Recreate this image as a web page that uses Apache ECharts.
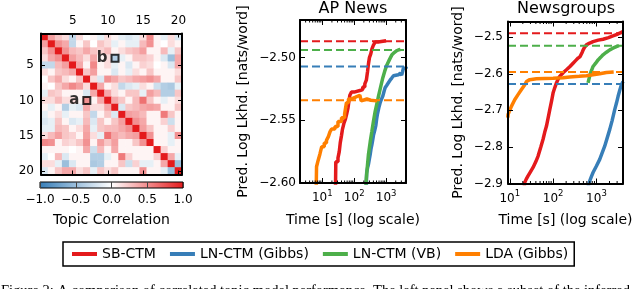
<!DOCTYPE html>
<html><head><meta charset="utf-8">
<script src="https://cdn.jsdelivr.net/npm/echarts@6/dist/echarts.min.js"></script>
<style>html,body{margin:0;padding:0;background:#fff}#c{width:640px;height:289px}</style>
</head><body><div id="c"></div>
<script>
// ---------- data ----------
const topics = [1,2,3,4,5,6,7,8,9,10,11,12,13,14,15,16,17,18,19,20];
// upper triangle of the topic correlation matrix (row i, columns i+1..20)
const corrUpper = [
  [0.42,0.25,0.15,-0.3,0.15,0,0.05,-0.12,0.15,0.05,-0.12,-0.18,-0.12,0.15,0.52,0.05,-0.12,0.15,-0.18],
  [0.48,0.38,-0.3,0.05,0.25,0,0.25,0.15,-0.12,0.05,-0.12,-0.12,0.3,0.48,0.05,0,0.15,0.05],
  [0.48,0.3,0.25,0.38,0.25,0.2,0.3,0.05,0.15,0.25,0.3,0.42,0.05,0.05,0.3,-0.12,0.25],
  [0.42,0.3,0.15,0.38,0.05,0.15,-0.38,-0.12,0.05,0.25,0.25,0.2,0.05,-0.18,-0.5,0.38],
  [0.38,0.05,0.52,0.05,0.15,-0.12,0.05,-0.18,0.05,0.2,0.15,0,0.05,-0.18,0.38],
  [0.25,0.42,0.05,0.05,-0.18,0.05,-0.12,0.15,0.05,0.25,0.05,0.05,0.05,0.15],
  [0.15,-0.18,0.48,0.38,0.25,0.3,0.38,0.42,0.48,0.38,0.05,0.05,0.25],
  [0.38,0.05,0.15,-0.3,-0.18,-0.12,0.15,0.05,-0.25,-0.38,-0.42,-0.12],
  [0.38,0.15,0.05,0.25,0.25,-0.12,0.42,0.3,-0.38,-0.38,0.25],
  [0.38,0.25,0.05,0.3,0.62,0.25,0.05,-0.12,0.05,0.15],
  [-0.18,0.25,0.3,0.38,0.42,0.38,0.05,0.05,0.25],
  [0.42,0.38,0.3,0.05,0.05,0.58,0.25,0.05],
  [0.48,0.38,0.05,0.05,0.2,-0.25,0.05],
  [0.42,0.25,0.05,0.05,0.2,0.05],
  [0.48,0.05,0.05,-0.12,0.48],
  [0.05,0.05,-0.12,0.05],
  [0.2,0.05,0.05],
  [0.38,-0.12],
  [-0.5]
];
const annotations = [{label:'a', col:7, row:10}, {label:'b', col:11, row:4}];

const seriesNames = ['SB-CTM','LN-CTM (Gibbs)','LN-CTM (VB)','LDA (Gibbs)'];
const seriesColors = ['#e41a1c','#377eb8','#4daf4a','#ff7f00'];

// AP News: [time (s), predictive log likelihood]
const apXRange = [2, 4200];
const apYRange = [-2.60, -2.47];
const apRed = [[25.5,-2.62],[26.5,-2.583],[31,-2.580],[34,-2.575],[36.5,-2.568],[40,-2.562],[43,-2.557],[48,-2.552],[53,-2.549],[58,-2.545],[64,-2.540],[68,-2.535],[73,-2.530],[82,-2.5275],[100,-2.526],[160,-2.5255],[185,-2.5235],[215,-2.521],[240,-2.518],[262,-2.511],[280,-2.505],[300,-2.500],[330,-2.497],[360,-2.493],[400,-2.490],[460,-2.4875],[560,-2.4865],[1000,-2.4865]];
const apBlue = [[232,-2.62],[245,-2.592],[262,-2.588],[280,-2.585],[298,-2.581],[316,-2.5775],[335,-2.573],[357,-2.5697],[378,-2.566],[401,-2.562],[440,-2.558],[477,-2.554],[505,-2.549],[535,-2.545],[590,-2.540],[650,-2.536],[720,-2.533],[789,-2.5306],[860,-2.527],[930,-2.524],[1050,-2.522],[1180,-2.520],[1330,-2.518],[1500,-2.5163],[1700,-2.5145],[1910,-2.5137],[2410,-2.5124],[2800,-2.5115],[3080,-2.514],[3300,-2.511],[3480,-2.5084],[4220,-2.5072]];
const apGreen = [[221,-2.61],[240,-2.596],[260,-2.586],[280,-2.577],[318,-2.567],[357,-2.559],[400,-2.551],[453,-2.543],[510,-2.537],[575,-2.531],[680,-2.523],[789,-2.516],[900,-2.511],[1050,-2.506],[1250,-2.502],[1500,-2.498],[1800,-2.496],[2150,-2.4945],[2500,-2.4937],[2800,-2.4935]];
const apOrange = [[6.3,-2.62],[6.6,-2.587],[7.4,-2.582],[8.4,-2.577],[9.6,-2.571],[11.5,-2.568],[13.5,-2.566],[15.5,-2.563],[17.5,-2.559],[19.5,-2.557],[25,-2.555],[31,-2.551],[40,-2.548],[50,-2.545],[57,-2.536],[66,-2.533],[80,-2.5315],[110,-2.530],[150,-2.5315],[165,-2.5345],[185,-2.533],[250,-2.534],[330,-2.5345],[520,-2.5345]];
const apFinal = [-2.487,-2.507,-2.494,-2.534];

// Newsgroups
const ngXRange = [9.1, 4100];
const ngYRange = [-2.9, -2.457];
const ngRed = [[21,-2.92],[22.2,-2.897],[24,-2.888],[26.4,-2.879],[30,-2.868],[34.5,-2.856],[40,-2.84],[45,-2.825],[52,-2.80],[58.6,-2.779],[64,-2.76],[70.3,-2.743],[77,-2.72],[83.8,-2.698],[92,-2.675],[100,-2.652],[110,-2.637],[119.5,-2.625],[130,-2.615],[142,-2.607],[170,-2.597],[203,-2.589],[245,-2.580],[289,-2.571],[330,-2.564],[377,-2.557],[420,-2.553],[451,-2.548],[470,-2.541],[491,-2.535],[530,-2.528],[587,-2.521],[700,-2.516],[835,-2.512],[1100,-2.508],[1420,-2.5054],[1900,-2.501],[2400,-2.4965],[3000,-2.492],[3770,-2.4864],[4110,-2.485]];
const ngBlue = [[640,-2.91],[700,-2.893],[760,-2.882],[835,-2.870],[1000,-2.852],[1190,-2.834],[1550,-2.798],[2030,-2.752],[2300,-2.728],[2640,-2.698],[2900,-2.680],[3160,-2.6616],[3450,-2.645],[3770,-2.630],[4110,-2.621]];
const ngGreen = [[640,-2.625],[680,-2.612],[727,-2.598],[780,-2.589],[835,-2.580],[960,-2.571],[1090,-2.562],[1250,-2.555],[1420,-2.548],[1700,-2.541],[2030,-2.5346],[2400,-2.530],[2880,-2.5256],[3320,-2.523]];
const ngOrange = [[9.0,-2.72],[9.15,-2.711],[10.9,-2.689],[13.0,-2.671],[15.5,-2.657],[18.6,-2.643],[22.2,-2.630],[24.3,-2.621],[28.9,-2.616],[41.3,-2.6135],[100,-2.6125],[170,-2.611],[242,-2.609],[400,-2.607],[587,-2.6053],[835,-2.6026],[1190,-2.600],[1700,-2.5963],[2500,-2.595]];
const ngFinal = [-2.489,-2.628,-2.523,-2.595];

const apMinorTicks = [3,4,5,6,7,8,9,20,30,40,50,60,70,80,90,200,300,400,500,600,700,800,900,2000,3000,4000];
const ngMinorTicks = [20,30,40,50,60,70,80,90,200,300,400,500,600,700,800,900,2000,3000,4000];
const cbarTickInterval = 0.5;

const caption = 'Figure 2: A comparison of correlated topic model performance. The left panel shows a subset of the inferred';

// ---------- build ----------
const FONT = 'DejaVu Sans';
const heatData = [];
for (let i = 0; i < 20; i++) for (let j = 0; j < 20; j++) {
  let v;
  if (i === j) v = 1; else if (j > i) v = corrUpper[i][j - i - 1]; else v = corrUpper[j][i - j - 1];
  heatData.push([j, i, v]);
}
const every5 = (idx) => (idx + 1) % 5 === 0;
function heatAxis(kind, pos, showLabel) {
  const a = { type:'category', gridIndex:0, data:topics, position:pos, z:10,
    axisLine:{show:true, onZero:false, lineStyle:{color:'#000', width:2}},
    axisTick:{show:true, inside:true, length:4, alignWithLabel:true, interval:every5, lineStyle:{color:'#000', width:1}},
    axisLabel:{show:showLabel, interval:every5, margin:7, fontSize:12, color:'#000', fontFamily:FONT},
    splitLine:{show:false} };
  if (kind === 'y') a.inverse = true;
  return a;
}
function logAxis(grid, pos, range, showLabel, name) {
  return { type:'log', logBase:10, gridIndex:grid, position:pos, min:range[0], max:range[1], z:10,
    axisLine:{show:true, onZero:false, lineStyle:{color:'#000', width:2}},
    axisTick:{show:true, inside:true, length:5, lineStyle:{color:'#000', width:1}},
    axisLabel:{show:showLabel, margin:6, color:'#000', fontFamily:FONT, fontSize:12,
      formatter: v => { const e = Math.log10(v); if (Math.abs(e - Math.round(e)) > 1e-6) return ''; return '{b|10}{s|' + Math.round(e) + '}'; },
      rich:{ b:{fontSize:12, fontFamily:FONT, color:'#000', lineHeight:18}, s:{fontSize:8.5, fontFamily:FONT, color:'#000', verticalAlign:'top', lineHeight:9} } },
    splitLine:{show:false}, minorTick:{show:false},
    name: name || '', nameLocation:'middle', nameGap:30, nameTextStyle:{fontSize:14, color:'#000', fontFamily:FONT} };
}
function valAxis(grid, pos, range, interval, dec, showLabel, name, nameGap, margin) {
  return { type:'value', gridIndex:grid, position:pos, min:range[0], max:range[1], interval, z:10,
    axisLine:{show:true, onZero:false, lineStyle:{color:'#000', width:2}},
    axisTick:{show:true, inside:true, length:5, lineStyle:{color:'#000', width:1}},
    axisLabel:{show:showLabel, margin, fontSize:12, color:'#000', fontFamily:FONT,
      formatter: v => { const k = v / interval; if (Math.abs(k - Math.round(k)) > 1e-6) return ''; return v.toFixed(dec).replace('-', '\u2212'); } },
    splitLine:{show:false},
    name: name || '', nameLocation:'middle', nameGap: nameGap || 0, nameRotate:90,
    nameTextStyle:{fontSize:14, color:'#000', fontFamily:FONT} };
}
function lineSeries(k, data, xi, yi, step) {
  return { type:'line', name:seriesNames[k], xAxisIndex:xi, yAxisIndex:yi, data, step: step ? 'end' : false,
    showSymbol:false, symbol:'none', clip:true, z:3, silent:true,
    lineStyle:{color:seriesColors[k], width:3.5}, itemStyle:{color:seriesColors[k]} };
}
function finalLine(k, v, xRange, xi, yi) {
  return { type:'line', name:seriesNames[k] + ' final', xAxisIndex:xi, yAxisIndex:yi,
    data:[[xRange[0], v], [xRange[1], v]], showSymbol:false, symbol:'none', clip:true, z:4, silent:true,
    lineStyle:{color:seriesColors[k], width:2, type:[8,4]}, itemStyle:{color:seriesColors[k]} };
}
function minorTicks(xi, yi, vals, yRef) {
  return { type:'custom', xAxisIndex:xi, yAxisIndex:yi, silent:true, z:11, clip:false,
    data: vals.map(v => [v, yRef]), encode:{x:0, y:1},
    renderItem: (params, api) => {
      const cs = params.coordSys;
      const x = api.coord([api.value(0), api.value(1)])[0];
      const top = cs.y, bot = cs.y + cs.height;
      return { type:'group', children:[
        {type:'line', shape:{x1:x, y1:bot, x2:x, y2:bot - 2.5}, style:{stroke:'#000', lineWidth:1}},
        {type:'line', shape:{x1:x, y1:top, x2:x, y2:top + 2.5}, style:{stroke:'#000', lineWidth:1}} ] };
    } };
}

const series = [
  {type:'heatmap', xAxisIndex:0, yAxisIndex:0, data:heatData, z:2, silent:true, itemStyle:{borderWidth:0}},
  {type:'scatter', xAxisIndex:0, yAxisIndex:0, z:5, silent:true, symbol:'rect', symbolSize:7,
    itemStyle:{color:'rgba(0,0,0,0)', borderColor:'#000', borderWidth:2},
    label:{show:true, position:'left', distance:3, fontSize:15, fontWeight:'bold', color:'#000', fontFamily:FONT, formatter: p => p.data.name},
    data: annotations.map(a => ({name:a.label, value:[a.col - 1, a.row - 1]}))}
];
[apRed, apBlue, apGreen, apOrange].forEach((d, k) => series.push(lineSeries(k, d, 3, 3, k !== 2)));
apFinal.forEach((v, k) => series.push(finalLine(k, v, apXRange, 3, 3)));
series.push(minorTicks(3, 3, apMinorTicks, apYRange[0]));
[ngRed, ngBlue, ngGreen, ngOrange].forEach((d, k) => series.push(lineSeries(k, d, 5, 5, false)));
ngFinal.forEach((v, k) => series.push(finalLine(k, v, ngXRange, 5, 5)));
series.push(minorTicks(5, 5, ngMinorTicks, ngYRange[0]));

const option = {
  animation:false,
  textStyle:{fontFamily:FONT},
  title:[
    {text:'AP News', left:353, top:1, textAlign:'center', padding:0, textStyle:{fontSize:16, fontWeight:'normal', color:'#000', fontFamily:FONT}},
    {text:'Newsgroups', left:566, top:1, textAlign:'center', padding:0, textStyle:{fontSize:16, fontWeight:'normal', color:'#000', fontFamily:FONT}}
  ],
  grid:[
    {left:41, top:33.5, width:141, height:141},
    {left:40, top:182, width:143, height:6, show:true, borderColor:'#000', borderWidth:1,
      backgroundColor: new echarts.graphic.LinearGradient(0,0,1,0,[{offset:0,color:'#377eb8'},{offset:0.5,color:'#ffffff'},{offset:1,color:'#e41a1c'}])},
    {left:300, top:20, width:106, height:163},
    {left:508, top:21.5, width:115, height:162}
  ],
  xAxis:[
    heatAxis('x','top',true),
    heatAxis('x','bottom',false),
    {type:'value', gridIndex:1, min:-1, max:1, interval:cbarTickInterval, position:'bottom',
      axisLine:{show:false}, axisTick:{show:false}, splitLine:{show:true, lineStyle:{color:'#444', width:1}},
      axisLabel:{margin:6, fontSize:12, color:'#000', fontFamily:FONT, showMinLabel:true, showMaxLabel:true, hideOverlap:false, formatter: v => v.toFixed(1).replace('-', '\u2212')},
      name:'Topic Correlation', nameLocation:'middle', nameGap:25, nameTextStyle:{fontSize:14, color:'#000', fontFamily:FONT}},
    logAxis(2,'bottom',apXRange,true,'Time [s] (log scale)'),
    logAxis(2,'top',apXRange,false),
    logAxis(3,'bottom',ngXRange,true,'Time [s] (log scale)'),
    logAxis(3,'top',ngXRange,false)
  ],
  yAxis:[
    heatAxis('y','left',true),
    heatAxis('y','right',false),
    {type:'value', gridIndex:1, show:false, min:0, max:1},
    valAxis(2,'left',apYRange,0.05,2,true,'Pred. Log Lkhd. [nats/word]',50,4),
    valAxis(2,'right',apYRange,0.05,2,false),
    valAxis(3,'left',ngYRange,0.1,1,true,'Pred. Log Lkhd. [nats/word]',43,5),
    valAxis(3,'right',ngYRange,0.1,1,false)
  ],
  visualMap:{show:false, seriesIndex:0, dimension:2, min:-1, max:1, inRange:{color:['#377eb8','#ffffff','#e41a1c']}},
  legend:{data:seriesNames, left:63, top:242, padding:[5,6,5,9], itemGap:14, icon:'rect', itemWidth:25, itemHeight:4,
    borderColor:'#000', borderWidth:1.5, borderRadius:0, textStyle:{fontSize:14, color:'#000', fontFamily:FONT}, selectedMode:false},
  graphic:[{type:'text', left:1, top:284, silent:true, style:{text:caption, font:'14.5px "Liberation Serif"', fill:'#000'}}],
  series
};
const chart = echarts.init(document.getElementById('c'), null, {renderer:'canvas'});
chart.setOption(option);
</script></body></html>
